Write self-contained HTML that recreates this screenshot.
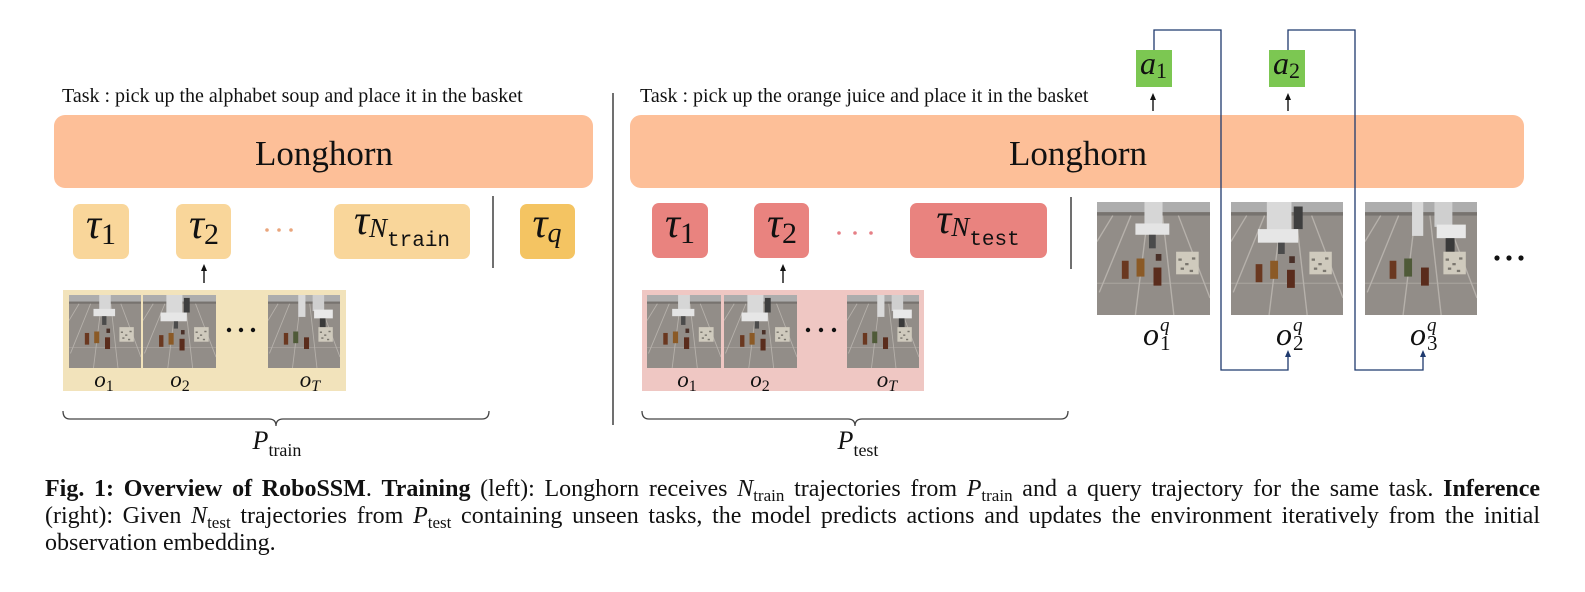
<!DOCTYPE html>
<html><head><meta charset="utf-8"><style>
html,body{margin:0;padding:0;background:#fff;}
body{width:1585px;height:592px;position:relative;overflow:hidden;font-family:"Liberation Serif",serif;}
svg{position:absolute;left:0;top:0;}
.cap{position:absolute;left:45px;width:1495px;font-size:24px;line-height:27px;color:#111;white-space:nowrap;}
.j{text-align:justify;text-align-last:justify;white-space:normal;}
.cap i{font-style:italic;}
.sub{font-size:17px;position:relative;top:5px;line-height:0;}
</style></head><body>
<svg width="1585" height="592" viewBox="0 0 1585 592" xmlns="http://www.w3.org/2000/svg">
<defs>
<symbol id="sa" viewBox="0 0 100 100" preserveAspectRatio="none">
 <rect width="100" height="100" fill="#928d88"/>
 <rect width="100" height="9" fill="#adadad"/>
 <rect y="9" width="100" height="3" fill="#77736f"/>
 <g stroke="#bdb8b2" stroke-width="1.2" opacity="0.85">
  <line x1="30" y1="12" x2="2" y2="80"/><line x1="45" y1="12" x2="34" y2="100"/>
  <line x1="58" y1="12" x2="68" y2="100"/><line x1="72" y1="12" x2="100" y2="85"/>
  <line x1="14" y1="12" x2="0" y2="35"/><line x1="0" y1="72" x2="100" y2="72" opacity="0.5"/>
 </g>
 <rect x="42" y="0" width="16" height="22" fill="#d6d6d6"/>
 <rect x="34" y="19" width="30" height="10" fill="#e4e4e4"/>
 <rect x="46" y="29" width="6" height="12" fill="#4b4b4b"/>
 <rect x="22" y="52" width="6" height="16" fill="#6a3820"/>
 <rect x="35" y="50" width="7" height="16" fill="#8b5a26"/>
 <rect x="50" y="58" width="7" height="16" fill="#5a2c1c"/>
 <rect x="52" y="46" width="5" height="6" fill="#4a3028"/>
 <rect x="70" y="44" width="20" height="20" fill="#cfcabd"/>
 <g fill="#7a766e"><rect x="72" y="50" width="3" height="2"/><rect x="78" y="54" width="3" height="2"/><rect x="84" y="49" width="3" height="2"/><rect x="74" y="58" width="3" height="2"/><rect x="82" y="60" width="3" height="2"/></g>
</symbol>
<symbol id="sb" viewBox="0 0 100 100" preserveAspectRatio="none">
 <rect width="100" height="100" fill="#928d88"/>
 <rect width="100" height="9" fill="#adadad"/>
 <rect y="9" width="100" height="3" fill="#77736f"/>
 <g stroke="#bdb8b2" stroke-width="1.2" opacity="0.85">
  <line x1="30" y1="12" x2="2" y2="80"/><line x1="45" y1="12" x2="34" y2="100"/>
  <line x1="58" y1="12" x2="68" y2="100"/><line x1="72" y1="12" x2="100" y2="85"/>
  <line x1="14" y1="12" x2="0" y2="35"/><line x1="0" y1="72" x2="100" y2="72" opacity="0.5"/>
 </g>
 <rect x="32" y="0" width="22" height="26" fill="#d9d9d9"/>
 <rect x="56" y="4" width="8" height="20" fill="#3e3e3e"/>
 <rect x="24" y="24" width="36" height="12" fill="#e6e6e6"/>
 <rect x="42" y="36" width="6" height="10" fill="#4b4b4b"/>
 <rect x="22" y="55" width="6" height="16" fill="#6a3820"/>
 <rect x="35" y="52" width="7" height="16" fill="#8b5a26"/>
 <rect x="50" y="60" width="7" height="16" fill="#5a2c1c"/>
 <rect x="52" y="48" width="5" height="6" fill="#4a3028"/>
 <rect x="70" y="44" width="20" height="20" fill="#cfcabd"/>
 <g fill="#7a766e"><rect x="72" y="50" width="3" height="2"/><rect x="78" y="54" width="3" height="2"/><rect x="84" y="49" width="3" height="2"/><rect x="74" y="58" width="3" height="2"/><rect x="82" y="60" width="3" height="2"/></g>
</symbol>
<symbol id="sc" viewBox="0 0 100 100" preserveAspectRatio="none">
 <rect width="100" height="100" fill="#928d88"/>
 <rect width="100" height="9" fill="#adadad"/>
 <rect y="9" width="100" height="3" fill="#77736f"/>
 <g stroke="#bdb8b2" stroke-width="1.2" opacity="0.85">
  <line x1="30" y1="12" x2="2" y2="80"/><line x1="45" y1="12" x2="34" y2="100"/>
  <line x1="58" y1="12" x2="68" y2="100"/><line x1="72" y1="12" x2="100" y2="85"/>
  <line x1="14" y1="12" x2="0" y2="35"/><line x1="0" y1="72" x2="100" y2="72" opacity="0.5"/>
 </g>
 <rect x="42" y="0" width="10" height="30" fill="#d9d9d9"/>
 <rect x="62" y="0" width="16" height="22" fill="#cfcfcf"/>
 <rect x="64" y="20" width="26" height="12" fill="#e8e8e8"/>
 <rect x="72" y="32" width="8" height="14" fill="#3a3a3a"/>
 <rect x="22" y="52" width="6" height="16" fill="#6a3820"/>
 <rect x="35" y="50" width="7" height="16" fill="#4f5a38"/>
 <rect x="50" y="58" width="7" height="16" fill="#5a2c1c"/>
 <rect x="70" y="44" width="20" height="20" fill="#cfcabd"/>
 <g fill="#7a766e"><rect x="72" y="50" width="3" height="2"/><rect x="78" y="54" width="3" height="2"/><rect x="84" y="49" width="3" height="2"/><rect x="74" y="58" width="3" height="2"/><rect x="82" y="60" width="3" height="2"/></g>
</symbol>
</defs>

<!-- task texts -->
<text x="62" y="102" font-family="Liberation Serif, serif" font-size="20" fill="#111">Task : pick up the alphabet soup and place it in the basket</text>
<text x="640" y="102" font-family="Liberation Serif, serif" font-size="20" fill="#111">Task : pick up the orange juice and place it in the basket</text>

<!-- Longhorn boxes -->
<rect x="54" y="115" width="539" height="73" rx="11" fill="#FDBF98"/>
<text x="324" y="165" text-anchor="middle" font-family="Liberation Serif, serif" font-size="35" fill="#111">Longhorn</text>
<rect x="630" y="115" width="894" height="73" rx="11" fill="#FDBF98"/>
<text x="1078" y="165" text-anchor="middle" font-family="Liberation Serif, serif" font-size="35" fill="#111">Longhorn</text>

<!-- separators -->
<g stroke="#333" stroke-width="1.4">
<line x1="613" y1="93" x2="613" y2="425"/>
<line x1="493" y1="196" x2="493" y2="268"/>
<line x1="1071" y1="197" x2="1071" y2="269"/>
</g>

<!-- left tau boxes -->
<g font-family="Liberation Serif, serif" fill="#111">
<rect x="73" y="204" width="56" height="55" rx="7" fill="#F9D69A"/>
<text x="101" y="238" text-anchor="middle"><tspan font-size="42" font-style="italic">τ</tspan><tspan font-size="30" dy="6">1</tspan></text>
<rect x="176" y="204" width="55" height="55" rx="7" fill="#F9D69A"/>
<text x="204" y="238" text-anchor="middle"><tspan font-size="42" font-style="italic">τ</tspan><tspan font-size="30" dy="6">2</tspan></text>
<rect x="334" y="204" width="136" height="55" rx="7" fill="#F9D69A"/>
<text x="402" y="234" text-anchor="middle"><tspan font-size="42" font-style="italic">τ</tspan><tspan font-size="27" font-style="italic" dy="3">N</tspan><tspan font-size="21" font-family="Liberation Mono, monospace" dy="9">train</tspan></text>
<rect x="520" y="204" width="55" height="55" rx="7" fill="#F4C462"/>
<text x="547" y="237" text-anchor="middle"><tspan font-size="42" font-style="italic">τ</tspan><tspan font-size="28" font-style="italic" dy="5">q</tspan></text>
</g>
<g fill="#E9A57C"><circle cx="267" cy="230" r="1.8"/><circle cx="279" cy="230" r="1.8"/><circle cx="291" cy="230" r="1.8"/></g>

<!-- right tau boxes -->
<g font-family="Liberation Serif, serif" fill="#111">
<rect x="652" y="203" width="56" height="55" rx="7" fill="#E9837F"/>
<text x="680" y="237" text-anchor="middle"><tspan font-size="42" font-style="italic">τ</tspan><tspan font-size="30" dy="6">1</tspan></text>
<rect x="754" y="203" width="55" height="55" rx="7" fill="#E9837F"/>
<text x="782" y="237" text-anchor="middle"><tspan font-size="42" font-style="italic">τ</tspan><tspan font-size="30" dy="6">2</tspan></text>
<rect x="910" y="203" width="137" height="55" rx="7" fill="#E9837F"/>
<text x="978" y="233" text-anchor="middle"><tspan font-size="42" font-style="italic">τ</tspan><tspan font-size="27" font-style="italic" dy="3">N</tspan><tspan font-size="21" font-family="Liberation Mono, monospace" dy="9">test</tspan></text>
</g>
<g fill="#E67F86"><circle cx="839" cy="233" r="1.8"/><circle cx="855" cy="233" r="1.8"/><circle cx="871" cy="233" r="1.8"/></g>

<!-- arrows -->
<g stroke="#111" stroke-width="1.4"><line x1="204" y1="283" x2="204" y2="269"/><line x1="783" y1="283" x2="783" y2="269"/>
<line x1="1153" y1="111" x2="1153" y2="98"/><line x1="1288" y1="111" x2="1288" y2="98"/></g>
<g fill="#111"><polygon points="204,264 201,271 207,271"/><polygon points="783,264 780,271 786,271"/>
<polygon points="1153,93 1150,100 1156,100"/><polygon points="1288,93 1285,100 1291,100"/></g>

<!-- strips -->
<rect x="63" y="290" width="283" height="101" fill="#F2E3BB"/>
<use href="#sa" x="69" y="295" width="72" height="73"/>
<use href="#sb" x="143" y="295" width="73" height="73"/>
<use href="#sc" x="268" y="295" width="72" height="73"/>
<g fill="#111"><circle cx="229" cy="330" r="2.2"/><circle cx="241" cy="330" r="2.2"/><circle cx="253" cy="330" r="2.2"/></g>
<g font-family="Liberation Serif, serif" fill="#111" text-anchor="middle">
<text x="104" y="387"><tspan font-size="23" font-style="italic">o</tspan><tspan font-size="16" dy="4">1</tspan></text>
<text x="180" y="387"><tspan font-size="23" font-style="italic">o</tspan><tspan font-size="16" dy="4">2</tspan></text>
<text x="310" y="387"><tspan font-size="23" font-style="italic">o</tspan><tspan font-size="16" font-style="italic" dy="4">T</tspan></text>
</g>

<rect x="642" y="290" width="282" height="101" fill="#EFC7C3"/>
<use href="#sa" x="647" y="295" width="74" height="73"/>
<use href="#sb" x="724" y="295" width="73" height="73"/>
<use href="#sc" x="847" y="295" width="72" height="73"/>
<g fill="#111"><circle cx="808" cy="330" r="2.2"/><circle cx="821" cy="330" r="2.2"/><circle cx="834" cy="330" r="2.2"/></g>
<g font-family="Liberation Serif, serif" fill="#111" text-anchor="middle">
<text x="687" y="387"><tspan font-size="23" font-style="italic">o</tspan><tspan font-size="16" dy="4">1</tspan></text>
<text x="760" y="387"><tspan font-size="23" font-style="italic">o</tspan><tspan font-size="16" dy="4">2</tspan></text>
<text x="887" y="387"><tspan font-size="23" font-style="italic">o</tspan><tspan font-size="16" font-style="italic" dy="4">T</tspan></text>
</g>

<!-- braces -->
<g fill="none" stroke="#444" stroke-width="1.3">
<path d="M63,411 Q63,419 70,419 L269,419 Q276,419 276,426 Q276,419 283,419 L482,419 Q489,419 489,411"/>
<path d="M642,411 Q642,419 649,419 L848,419 Q855,419 855,426 Q855,419 862,419 L1061,419 Q1068,419 1068,411"/>
</g>
<g font-family="Liberation Serif, serif" fill="#111" text-anchor="middle">
<text x="277" y="449"><tspan font-size="26" font-style="italic">P</tspan><tspan font-size="18" dy="7">train</tspan></text>
<text x="858" y="449"><tspan font-size="26" font-style="italic">P</tspan><tspan font-size="18" dy="7">test</tspan></text>
</g>

<!-- query images -->
<use href="#sa" x="1097" y="202" width="113" height="113"/>
<use href="#sb" x="1231" y="202" width="112" height="113"/>
<use href="#sc" x="1365" y="202" width="112" height="113"/>
<g fill="#111"><circle cx="1497" cy="258" r="2.6"/><circle cx="1509" cy="258" r="2.6"/><circle cx="1521" cy="258" r="2.6"/></g>
<g font-family="Liberation Serif, serif" fill="#111">
<text x="1143" y="345" font-size="32" font-style="italic">o</text>
<text x="1160" y="331" font-size="19" font-style="italic">q</text>
<text x="1160" y="350" font-size="21">1</text>
<text x="1276" y="345" font-size="32" font-style="italic">o</text>
<text x="1293" y="331" font-size="19" font-style="italic">q</text>
<text x="1293" y="350" font-size="21">2</text>
<text x="1410" y="345" font-size="32" font-style="italic">o</text>
<text x="1427" y="331" font-size="19" font-style="italic">q</text>
<text x="1427" y="350" font-size="21">3</text>
</g>

<!-- action boxes -->
<rect x="1136" y="50" width="36" height="37" fill="#7CC752"/>
<rect x="1269" y="50" width="36" height="37" fill="#7CC752"/>
<g font-family="Liberation Serif, serif" fill="#111">
<text x="1140" y="74"><tspan font-size="32" font-style="italic">a</tspan><tspan font-size="22" dy="4">1</tspan></text>
<text x="1273" y="74"><tspan font-size="32" font-style="italic">a</tspan><tspan font-size="22" dy="4">2</tspan></text>
</g>

<!-- blue feedback lines -->
<g fill="none" stroke="#1F3A6E" stroke-width="1.3">
<path d="M1154,50 V30 H1221 V370 H1288 V355"/>
<path d="M1288,50 V30 H1355 V370 H1423 V355"/>
</g>
<g fill="#1F3A6E"><polygon points="1288,350 1285,357 1291,357"/><polygon points="1423,350 1420,357 1426,357"/></g>
</svg>

<div class="cap j" style="top:476px;"><b>Fig. 1: Overview of RoboSSM</b>. <b>Training</b> (left): Longhorn receives <i>N</i><span class="sub">train</span> trajectories from <i>P</i><span class="sub">train</span> and a query trajectory for the same task. <b>Inference</b></div>
<div class="cap j" style="top:503px;">(right): Given <i>N</i><span class="sub">test</span> trajectories from <i>P</i><span class="sub">test</span> containing unseen tasks, the model predicts actions and updates the environment iteratively from the initial</div>
<div class="cap" style="top:530px;">observation embedding.</div>
</body></html>
